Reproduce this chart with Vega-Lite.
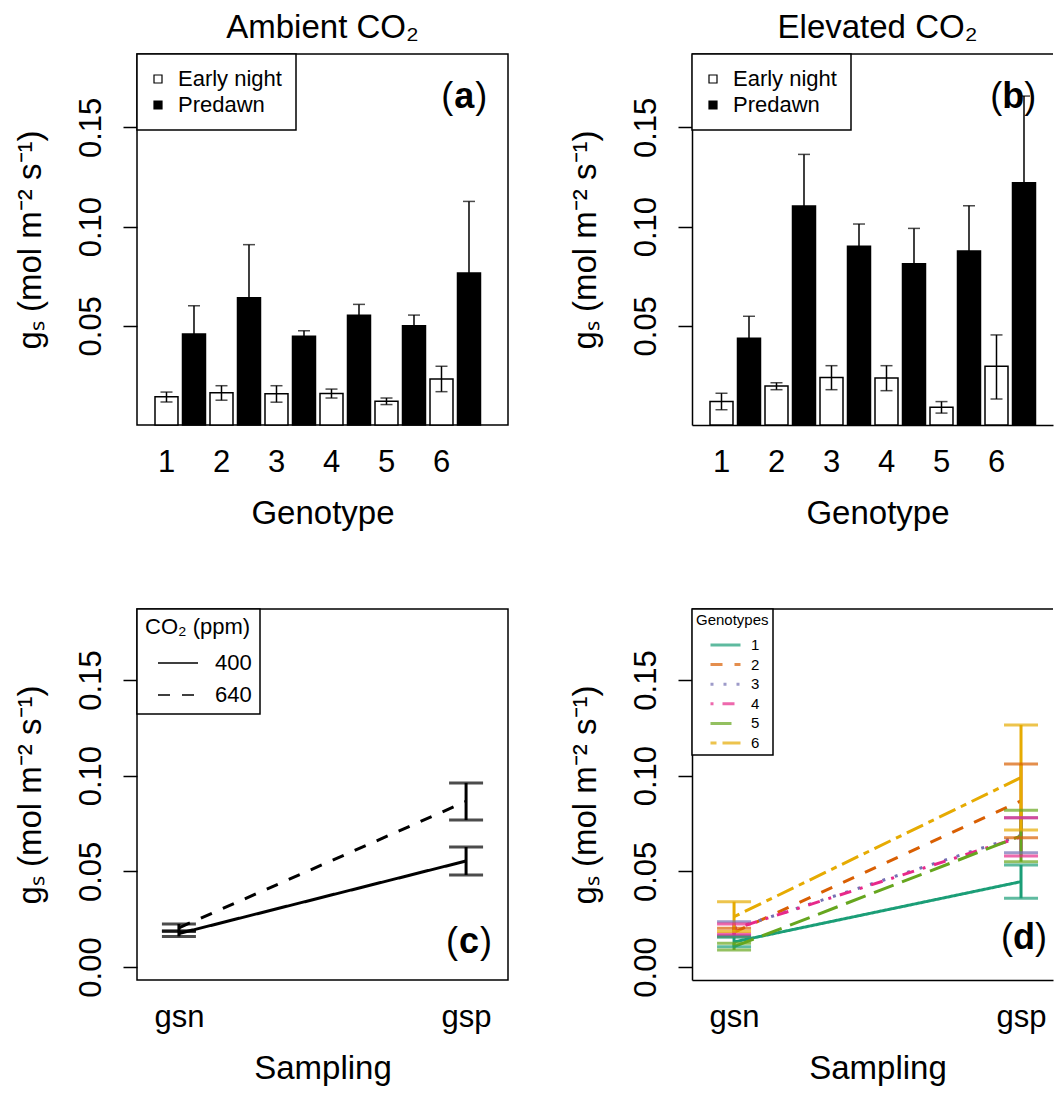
{
  "$schema": "https://vega.github.io/schema/vega-lite/v6.json",
  "background": "white",
  "padding": {"left": 13, "top": 11, "right": 0, "bottom": 0},
  "config": {
    "font": "Liberation Sans",
    "view": {"stroke": "black", "strokeWidth": 1.5},
    "axis": {"labelFont": "Liberation Sans", "titleFont": "Liberation Sans", "labelColor": "black", "titleColor": "black", "tickColor": "black", "domainColor": "black", "labelFontSize": 31, "titleFontSize": 33, "titleFontWeight": "normal", "grid": false, "domainWidth": 1.5, "tickWidth": 1.5},
    "legend": {"labelFont": "Liberation Sans", "titleFont": "Liberation Sans", "labelColor": "black", "titleColor": "black", "titleFontWeight": "normal", "strokeWidth": 1.5},
    "text": {"font": "Liberation Sans", "color": "black"},
    "title": {"font": "Liberation Sans", "fontWeight": "normal", "fontSize": 33, "color": "black"}
  },
  "datasets": {
    "amb": [
      {"genotype": "1", "time": "Early night", "mean": 0.0143, "lo": 0.0116, "hi": 0.0166},
      {"genotype": "1", "time": "Predawn", "mean": 0.0459, "lo": 0.0317, "hi": 0.0601},
      {"genotype": "2", "time": "Early night", "mean": 0.0162, "lo": 0.0125, "hi": 0.0198},
      {"genotype": "2", "time": "Predawn", "mean": 0.0642, "lo": 0.0375, "hi": 0.0909},
      {"genotype": "3", "time": "Early night", "mean": 0.0157, "lo": 0.0115, "hi": 0.0198},
      {"genotype": "3", "time": "Predawn", "mean": 0.0447, "lo": 0.0419, "hi": 0.0475},
      {"genotype": "4", "time": "Early night", "mean": 0.0159, "lo": 0.0136, "hi": 0.0181},
      {"genotype": "4", "time": "Predawn", "mean": 0.0553, "lo": 0.0498, "hi": 0.0608},
      {"genotype": "5", "time": "Early night", "mean": 0.0120, "lo": 0.0103, "hi": 0.0136},
      {"genotype": "5", "time": "Predawn", "mean": 0.0500, "lo": 0.0446, "hi": 0.0554},
      {"genotype": "6", "time": "Early night", "mean": 0.0232, "lo": 0.0168, "hi": 0.0296},
      {"genotype": "6", "time": "Predawn", "mean": 0.0766, "lo": 0.0405, "hi": 0.1127}
    ],
    "elev": [
      {"genotype": "1", "time": "Early night", "mean": 0.0119, "lo": 0.0077, "hi": 0.0160},
      {"genotype": "1", "time": "Predawn", "mean": 0.0437, "lo": 0.0326, "hi": 0.0548},
      {"genotype": "2", "time": "Early night", "mean": 0.0196, "lo": 0.0178, "hi": 0.0213},
      {"genotype": "2", "time": "Predawn", "mean": 0.1104, "lo": 0.0844, "hi": 0.1364},
      {"genotype": "3", "time": "Early night", "mean": 0.0239, "lo": 0.0178, "hi": 0.0299},
      {"genotype": "3", "time": "Predawn", "mean": 0.0901, "lo": 0.0789, "hi": 0.1013},
      {"genotype": "4", "time": "Early night", "mean": 0.0237, "lo": 0.0173, "hi": 0.0299},
      {"genotype": "4", "time": "Predawn", "mean": 0.0813, "lo": 0.0635, "hi": 0.0991},
      {"genotype": "5", "time": "Early night", "mean": 0.0089, "lo": 0.0060, "hi": 0.0118},
      {"genotype": "5", "time": "Predawn", "mean": 0.0877, "lo": 0.0649, "hi": 0.1105},
      {"genotype": "6", "time": "Early night", "mean": 0.0296, "lo": 0.0131, "hi": 0.0454},
      {"genotype": "6", "time": "Predawn", "mean": 0.1221, "lo": 0.0784, "hi": 0.1658}
    ],
    "co2": [
      {"co2": "400", "sampling": "gsn", "mean": 0.0175, "lo": 0.0160, "hi": 0.0190},
      {"co2": "400", "sampling": "gsp", "mean": 0.0554, "lo": 0.0481, "hi": 0.0627},
      {"co2": "640", "sampling": "gsn", "mean": 0.0205, "lo": 0.0185, "hi": 0.0225},
      {"co2": "640", "sampling": "gsp", "mean": 0.0865, "lo": 0.0768, "hi": 0.0962}
    ],
    "geno": [
      {"genotype": "1", "sampling": "gsn", "mean": 0.0131, "lo": 0.0106, "hi": 0.0156},
      {"genotype": "1", "sampling": "gsp", "mean": 0.0446, "lo": 0.0359, "hi": 0.0533},
      {"genotype": "2", "sampling": "gsn", "mean": 0.0181, "lo": 0.0160, "hi": 0.0202},
      {"genotype": "2", "sampling": "gsp", "mean": 0.0868, "lo": 0.0676, "hi": 0.1061},
      {"genotype": "3", "sampling": "gsn", "mean": 0.0200, "lo": 0.0163, "hi": 0.0237},
      {"genotype": "3", "sampling": "gsp", "mean": 0.0688, "lo": 0.0597, "hi": 0.0780},
      {"genotype": "4", "sampling": "gsn", "mean": 0.0199, "lo": 0.0173, "hi": 0.0225},
      {"genotype": "4", "sampling": "gsp", "mean": 0.0680, "lo": 0.0580, "hi": 0.0780},
      {"genotype": "5", "sampling": "gsn", "mean": 0.0106, "lo": 0.0089, "hi": 0.0124},
      {"genotype": "5", "sampling": "gsp", "mean": 0.0685, "lo": 0.0550, "hi": 0.0819},
      {"genotype": "6", "sampling": "gsn", "mean": 0.0263, "lo": 0.0185, "hi": 0.0341},
      {"genotype": "6", "sampling": "gsp", "mean": 0.0990, "lo": 0.0716, "hi": 0.1265}
    ]
  },
  "bounds": "flush",
  "spacing": 555,
  "resolve": {"scale": {"x": "independent", "y": "independent", "xOffset": "independent", "fill": "independent", "color": "independent", "strokeDash": "independent"}, "legend": {"fill": "independent", "color": "independent", "strokeDash": "independent"}},
  "vconcat": [
    {
      "bounds": "flush",
      "spacing": 184,
      "resolve": {"scale": {"x": "independent", "y": "independent", "xOffset": "independent", "fill": "independent"}, "legend": {"fill": "independent"}},
      "hconcat": [
        {
          "width": 371, "height": 371,
          "title": {"text": "Ambient CO₂", "offset": 8},
          "data": {"name": "amb"},
          "layer": [
            {
              "mark": {"type": "bar", "stroke": "black", "strokeWidth": 1.5},
              "encoding": {
                "x": {"field": "genotype", "type": "ordinal", "scale": {"paddingInner": 0, "paddingOuter": 0.3727, "align": 0.384},
                      "axis": {"title": "Genotype", "labelAngle": 0, "ticks": false, "tickSize": 0, "domain": false, "labelOffset": -13.5, "labelPadding": 22, "titlePadding": 20}},
                "xOffset": {"field": "time", "type": "nominal", "scale": {"domain": ["Early night", "Predawn"], "paddingInner": 0.164, "paddingOuter": 0.082}},
                "y": {"field": "mean", "type": "quantitative", "scale": {"domain": [0, 0.187], "nice": false, "zero": false},
                      "axis": {"title": "gₛ (mol m⁻² s⁻¹)", "values": [0.05, 0.1, 0.15], "format": ".2f", "domain": false, "tickSize": 14, "labelAngle": 270, "labelAlign": "center", "labelBaseline": "alphabetic", "labelPadding": 23, "titlePadding": 28}},
                "fill": {"field": "time", "type": "nominal", "scale": {"domain": ["Early night", "Predawn"], "range": ["white", "black"]},
                         "legend": {"title": null, "orient": "top-left", "offset": 0, "strokeColor": "black", "fillColor": "white", "padding": 14, "symbolOffset": -4, "symbolType": "square", "symbolSize": 64, "symbolStrokeColor": "black", "symbolStrokeWidth": 1.2, "labelFontSize": 22, "labelOffset": 9, "rowPadding": 4}}
              }
            },
            {
              "mark": {"type": "rule", "color": "black", "strokeWidth": 1.5},
              "encoding": {
                "x": {"field": "genotype", "type": "ordinal"},
                "xOffset": {"field": "time", "type": "nominal"},
                "y": {"field": "lo", "type": "quantitative"},
                "y2": {"field": "hi"}
              }
            },
            {
              "mark": {"type": "tick", "orient": "horizontal", "color": "black", "thickness": 1.5, "size": 12},
              "encoding": {
                "x": {"field": "genotype", "type": "ordinal"},
                "xOffset": {"field": "time", "type": "nominal"},
                "y": {"field": "lo", "type": "quantitative"}
              }
            },
            {
              "mark": {"type": "tick", "orient": "horizontal", "color": "black", "thickness": 1.5, "size": 12},
              "encoding": {
                "x": {"field": "genotype", "type": "ordinal"},
                "xOffset": {"field": "time", "type": "nominal"},
                "y": {"field": "hi", "type": "quantitative"}
              }
            },
            {
              "data": {"values": [{}]},
              "mark": {"type": "text", "fontSize": 36, "fontWeight": "bold", "align": "center", "baseline": "middle", "dx": 9},
              "encoding": {"x": {"datum": "6", "type": "ordinal"}, "y": {"datum": 0.1653, "type": "quantitative"}, "text": {"value": "a"}}
            },
            {
              "data": {"values": [{}]},
              "mark": {"type": "text", "fontSize": 36, "align": "right", "baseline": "middle", "dx": -2},
              "encoding": {"x": {"datum": "6", "type": "ordinal"}, "y": {"datum": 0.1653, "type": "quantitative"}, "text": {"value": "("}}
            },
            {
              "data": {"values": [{}]},
              "mark": {"type": "text", "fontSize": 36, "align": "left", "baseline": "middle", "dx": 20},
              "encoding": {"x": {"datum": "6", "type": "ordinal"}, "y": {"datum": 0.1653, "type": "quantitative"}, "text": {"value": ")"}}
            }
          ]
        },
        {
          "width": 361, "height": 371,
          "title": {"text": "Elevated CO₂", "offset": 8, "dx": 5},
          "view": {"stroke": null},
          "data": {"name": "elev"},
          "layer": [
            {
              "mark": {"type": "bar", "stroke": "black", "strokeWidth": 1.5},
              "encoding": {
                "x": {"field": "genotype", "type": "ordinal", "scale": {"paddingInner": 0, "paddingOuter": 0.2818, "align": 0.508},
                      "axis": {"title": "Genotype", "labelAngle": 0, "ticks": false, "tickSize": 0, "domain": true, "labelOffset": -13.5, "labelPadding": 22, "titlePadding": 20, "titleX": 185.5}},
                "xOffset": {"field": "time", "type": "nominal", "scale": {"domain": ["Early night", "Predawn"], "paddingInner": 0.164, "paddingOuter": 0.082}},
                "y": {"field": "mean", "type": "quantitative", "scale": {"domain": [0, 0.187], "nice": false, "zero": false},
                      "axis": {"title": "gₛ (mol m⁻² s⁻¹)", "values": [0.05, 0.1, 0.15], "format": ".2f", "domain": true, "tickSize": 14, "labelAngle": 270, "labelAlign": "center", "labelBaseline": "alphabetic", "labelPadding": 23, "titlePadding": 28}},
                "fill": {"field": "time", "type": "nominal", "scale": {"domain": ["Early night", "Predawn"], "range": ["white", "black"]},
                         "legend": {"title": null, "orient": "top-left", "offset": 0, "strokeColor": "black", "fillColor": "white", "padding": 14, "symbolOffset": -4, "symbolType": "square", "symbolSize": 64, "symbolStrokeColor": "black", "symbolStrokeWidth": 1.2, "labelFontSize": 22, "labelOffset": 9, "rowPadding": 4}}
              }
            },
            {
              "mark": {"type": "rule", "color": "black", "strokeWidth": 1.5},
              "encoding": {
                "x": {"field": "genotype", "type": "ordinal"},
                "xOffset": {"field": "time", "type": "nominal"},
                "y": {"field": "lo", "type": "quantitative"},
                "y2": {"field": "hi"}
              }
            },
            {
              "mark": {"type": "tick", "orient": "horizontal", "color": "black", "thickness": 1.5, "size": 12},
              "encoding": {
                "x": {"field": "genotype", "type": "ordinal"},
                "xOffset": {"field": "time", "type": "nominal"},
                "y": {"field": "lo", "type": "quantitative"}
              }
            },
            {
              "mark": {"type": "tick", "orient": "horizontal", "color": "black", "thickness": 1.5, "size": 12},
              "encoding": {
                "x": {"field": "genotype", "type": "ordinal"},
                "xOffset": {"field": "time", "type": "nominal"},
                "y": {"field": "hi", "type": "quantitative"}
              }
            },
            {
              "data": {"values": [{}]},
              "mark": {"type": "rule", "color": "black", "strokeWidth": 1.5},
              "encoding": {"y": {"datum": 0.187, "type": "quantitative"}}
            },
            {
              "data": {"values": [{}]},
              "mark": {"type": "text", "fontSize": 36, "fontWeight": "bold", "align": "center", "baseline": "middle", "dx": 3},
              "encoding": {"x": {"datum": "6", "type": "ordinal"}, "y": {"datum": 0.1653, "type": "quantitative"}, "text": {"value": "b"}}
            },
            {
              "data": {"values": [{}]},
              "mark": {"type": "text", "fontSize": 36, "align": "right", "baseline": "middle", "dx": -8},
              "encoding": {"x": {"datum": "6", "type": "ordinal"}, "y": {"datum": 0.1653, "type": "quantitative"}, "text": {"value": "("}}
            },
            {
              "data": {"values": [{}]},
              "mark": {"type": "text", "fontSize": 36, "align": "left", "baseline": "middle", "dx": 14},
              "encoding": {"x": {"datum": "6", "type": "ordinal"}, "y": {"datum": 0.1653, "type": "quantitative"}, "text": {"value": ")"}}
            }
          ]
        }
      ]
    },
    {
      "bounds": "flush",
      "spacing": 184,
      "resolve": {"scale": {"x": "independent", "y": "independent", "color": "independent", "strokeDash": "independent"}, "legend": {"color": "independent", "strokeDash": "independent"}},
      "hconcat": [
        {
          "width": 371, "height": 371,
          "data": {"name": "co2"},
          "layer": [
            {
              "mark": {"type": "line", "color": "black", "strokeWidth": 3},
              "encoding": {
                "x": {"field": "sampling", "type": "ordinal", "scale": {"type": "point", "padding": 0.146},
                      "axis": {"title": "Sampling", "labelAngle": 0, "ticks": false, "tickSize": 0, "domain": false, "labelPadding": 22, "titlePadding": 20}},
                "y": {"field": "mean", "type": "quantitative", "scale": {"domain": [-0.0068, 0.1871], "nice": false, "zero": false},
                      "axis": {"title": "gₛ (mol m⁻² s⁻¹)", "values": [0, 0.05, 0.1, 0.15], "format": ".2f", "domain": false, "tickSize": 14, "labelAngle": 270, "labelAlign": "center", "labelBaseline": "alphabetic", "labelPadding": 23, "titlePadding": 28}},
                "strokeDash": {"field": "co2", "type": "nominal", "scale": {"domain": ["400", "640"], "range": [[1, 0], [12, 12]]},
                               "legend": {"title": "CO₂ (ppm)", "orient": "top-left", "offset": 0, "strokeColor": "black", "fillColor": "white", "padding": 8, "symbolType": "stroke", "symbolSize": 1600, "symbolStrokeWidth": 1.5, "symbolStrokeColor": "black", "symbolOffset": 12, "labelFontSize": 22, "titleFontSize": 22, "labelOffset": 16, "rowPadding": -5, "titlePadding": 3}}
              }
            },
            {
              "mark": {"type": "rule", "color": "black", "strokeWidth": 3},
              "encoding": {
                "x": {"field": "sampling", "type": "ordinal"},
                "y": {"field": "lo", "type": "quantitative"},
                "y2": {"field": "hi"}
              }
            },
            {
              "mark": {"type": "tick", "orient": "horizontal", "color": "black", "thickness": 3, "size": 34},
              "encoding": {"x": {"field": "sampling", "type": "ordinal"}, "y": {"field": "lo", "type": "quantitative"}}
            },
            {
              "mark": {"type": "tick", "orient": "horizontal", "color": "black", "thickness": 3, "size": 34},
              "encoding": {"x": {"field": "sampling", "type": "ordinal"}, "y": {"field": "hi", "type": "quantitative"}}
            },
            {
              "data": {"values": [{}]},
              "mark": {"type": "text", "fontSize": 36, "fontWeight": "bold", "align": "center", "baseline": "middle", "dx": 3},
              "encoding": {"x": {"datum": "gsp", "type": "ordinal"}, "y": {"datum": 0.0131, "type": "quantitative"}, "text": {"value": "c"}}
            },
            {
              "data": {"values": [{}]},
              "mark": {"type": "text", "fontSize": 36, "align": "right", "baseline": "middle", "dx": -8},
              "encoding": {"x": {"datum": "gsp", "type": "ordinal"}, "y": {"datum": 0.0131, "type": "quantitative"}, "text": {"value": "("}}
            },
            {
              "data": {"values": [{}]},
              "mark": {"type": "text", "fontSize": 36, "align": "left", "baseline": "middle", "dx": 14},
              "encoding": {"x": {"datum": "gsp", "type": "ordinal"}, "y": {"datum": 0.0131, "type": "quantitative"}, "text": {"value": ")"}}
            }
          ]
        },
        {
          "width": 361, "height": 371,
          "view": {"stroke": null},
          "data": {"name": "geno"},
          "layer": [
            {
              "mark": {"type": "line", "strokeWidth": 3},
              "encoding": {
                "x": {"field": "sampling", "type": "ordinal", "scale": {"type": "point", "padding": 0.129, "align": 0.568},
                      "axis": {"title": "Sampling", "labelAngle": 0, "ticks": false, "tickSize": 0, "domain": true, "labelPadding": 22, "titlePadding": 20, "titleX": 185.5}},
                "y": {"field": "mean", "type": "quantitative", "scale": {"domain": [-0.0068, 0.1871], "nice": false, "zero": false},
                      "axis": {"title": "gₛ (mol m⁻² s⁻¹)", "values": [0, 0.05, 0.1, 0.15], "format": ".2f", "domain": true, "tickSize": 14, "labelAngle": 270, "labelAlign": "center", "labelBaseline": "alphabetic", "labelPadding": 23, "titlePadding": 28}},
                "color": {"field": "genotype", "type": "nominal", "scale": {"domain": ["1", "2", "3", "4", "5", "6"], "range": ["#1B9E77", "#D95F02", "#7570B3", "#E7298A", "#66A61E", "#E6AB02"]},
                          "legend": {"title": "Genotypes", "orient": "top-left", "offset": 0, "strokeColor": "black", "fillColor": "white", "padding": 4, "symbolType": "M-1.667,0H1.667", "symbolSize": 324, "symbolStrokeWidth": 3, "symbolOffset": 19, "labelFontSize": 15, "titleFontSize": 15, "labelOffset": 15, "rowPadding": 0.6, "titlePadding": 6.5}},
                "strokeDash": {"field": "genotype", "type": "nominal", "scale": {"domain": ["1", "2", "3", "4", "5", "6"], "range": [[1, 0], [12, 12], [3, 10], [3, 9, 12, 9], [21, 9], [6, 6, 18, 6]]},
                               "legend": {"title": "Genotypes", "orient": "top-left", "offset": 0, "strokeColor": "black", "fillColor": "white", "padding": 4, "symbolType": "M-1.667,0H1.667", "symbolSize": 324, "symbolStrokeWidth": 3, "symbolOffset": 19, "labelFontSize": 15, "titleFontSize": 15, "labelOffset": 15, "rowPadding": 0.6, "titlePadding": 6.5}}
              }
            },
            {
              "mark": {"type": "rule", "strokeWidth": 3},
              "encoding": {
                "x": {"field": "sampling", "type": "ordinal"},
                "y": {"field": "lo", "type": "quantitative"},
                "y2": {"field": "hi"},
                "color": {"field": "genotype", "type": "nominal"}
              }
            },
            {
              "mark": {"type": "tick", "orient": "horizontal", "thickness": 3, "size": 34},
              "encoding": {"x": {"field": "sampling", "type": "ordinal"}, "y": {"field": "lo", "type": "quantitative"}, "color": {"field": "genotype", "type": "nominal"}}
            },
            {
              "mark": {"type": "tick", "orient": "horizontal", "thickness": 3, "size": 34},
              "encoding": {"x": {"field": "sampling", "type": "ordinal"}, "y": {"field": "hi", "type": "quantitative"}, "color": {"field": "genotype", "type": "nominal"}}
            },
            {
              "data": {"values": [{}]},
              "mark": {"type": "rule", "color": "black", "strokeWidth": 1.5},
              "encoding": {"y": {"datum": 0.1871, "type": "quantitative"}}
            },
            {
              "data": {"values": [{}]},
              "mark": {"type": "text", "fontSize": 36, "fontWeight": "bold", "align": "center", "baseline": "middle", "dx": 3},
              "encoding": {"x": {"datum": "gsp", "type": "ordinal"}, "y": {"datum": 0.015, "type": "quantitative"}, "text": {"value": "d"}}
            },
            {
              "data": {"values": [{}]},
              "mark": {"type": "text", "fontSize": 36, "align": "right", "baseline": "middle", "dx": -8},
              "encoding": {"x": {"datum": "gsp", "type": "ordinal"}, "y": {"datum": 0.015, "type": "quantitative"}, "text": {"value": "("}}
            },
            {
              "data": {"values": [{}]},
              "mark": {"type": "text", "fontSize": 36, "align": "left", "baseline": "middle", "dx": 14},
              "encoding": {"x": {"datum": "gsp", "type": "ordinal"}, "y": {"datum": 0.015, "type": "quantitative"}, "text": {"value": ")"}}
            }
          ]
        }
      ]
    }
  ]
}
